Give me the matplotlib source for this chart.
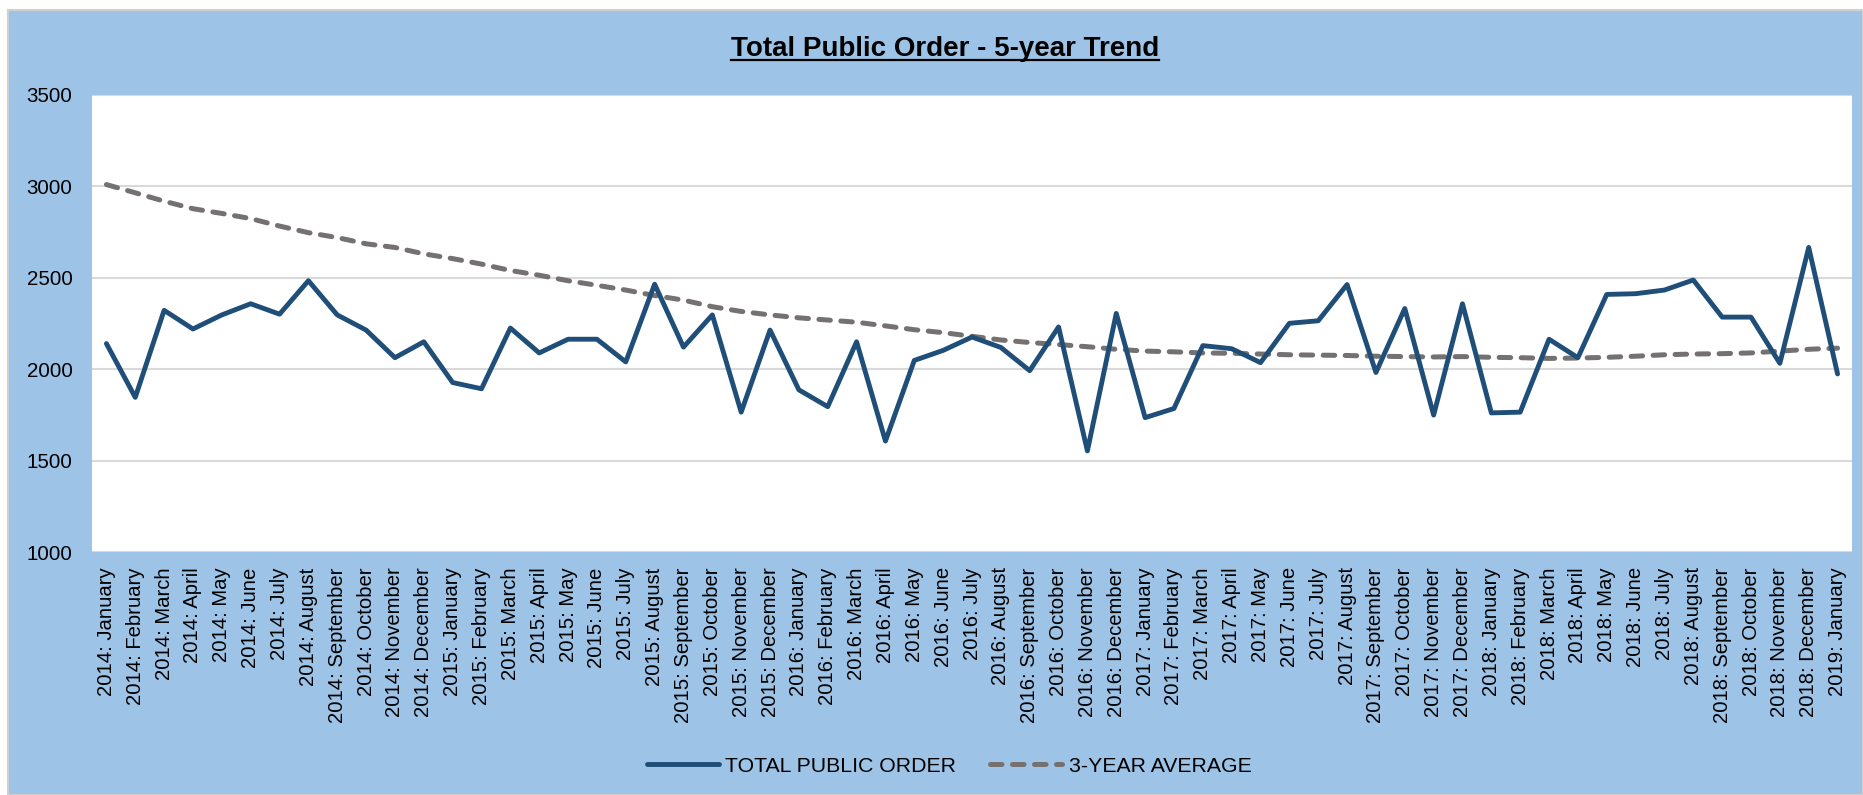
import matplotlib
matplotlib.use("Agg")
import matplotlib.pyplot as plt
from matplotlib.patches import Rectangle
from matplotlib.lines import Line2D

plt.rcParams['font.family'] = ['Liberation Sans', 'DejaVu Sans']

# ---- data ----
years = [2014] * 12 + [2015] * 12 + [2016] * 12 + [2017] * 12 + [2018] * 12 + [2019]
month_names = ["January", "February", "March", "April", "May", "June", "July",
               "August", "September", "October", "November", "December"]
labels = ["%d: %s" % (y, month_names[i % 12]) for i, y in enumerate(years)]

total_public_order = [
    2140, 1846, 2322, 2220, 2297, 2358, 2301, 2484, 2297, 2214, 2063, 2150,
    1927, 1893, 2225, 2089, 2164, 2164, 2040, 2465, 2121, 2297, 1765, 2214,
    1887, 1795, 2150, 1607, 2048, 2103, 2176, 2119, 1992, 2231, 1553, 2305,
    1735, 1785, 2129, 2112, 2036, 2251, 2265, 2463, 1982, 2332, 1749, 2358,
    1761, 1765, 2164, 2063, 2409, 2413, 2433, 2488, 2285, 2285, 2032, 2666,
    1974,
]
three_year_avg = [
    3010, 2965, 2919, 2878, 2852, 2824, 2783, 2747, 2720, 2686, 2666, 2631,
    2605, 2575, 2540, 2514, 2484, 2459, 2433, 2403, 2378, 2342, 2316, 2297,
    2281, 2269, 2257, 2237, 2216, 2200, 2180, 2160, 2146, 2135, 2123, 2109,
    2099, 2095, 2089, 2087, 2083, 2079, 2077, 2075, 2071, 2069, 2067, 2069,
    2065, 2063, 2059, 2061, 2065, 2071, 2079, 2083, 2085, 2089, 2099, 2109,
    2115,
]

W, H = 1863, 795
fig = plt.figure(figsize=(W / 100, H / 100), dpi=100, facecolor="white")

# blue chart background
bg = Rectangle((8 / W, 0), (W - 8) / W, (H - 10) / H, transform=fig.transFigure,
               facecolor="#9DC3E6", edgecolor="#D0D0D0", lw=1.5, zorder=-10)
fig.patches.append(bg)

ax = fig.add_axes([92 / W, (H - 552) / H, 1760 / W, 457 / H])
ax.set_facecolor("white")

x = list(range(len(labels)))
ax.plot(x, total_public_order, color="#1F4E79", lw=3.5,
        solid_capstyle="round", solid_joinstyle="round",
        label="TOTAL PUBLIC ORDER", zorder=3)
avg_line, = ax.plot(x, three_year_avg, color="#767171", lw=3.6,
                    dash_capstyle="round", label="3-YEAR AVERAGE", zorder=2)
avg_line.set_dashes((2.3, 2.1))

ax.set_xlim(-0.5, len(labels) - 0.5)
ax.set_ylim(1000, 3500)
ax.set_yticks([1000, 1500, 2000, 2500, 3000, 3500])
ax.set_xticks(x)
ax.set_xticklabels(labels, rotation=90, fontsize=14.6)
ax.tick_params(axis="x", length=0, pad=11)
ax.tick_params(axis="y", length=0, pad=14, labelsize=14.8)
ax.grid(axis="y", color="#D9D9D9", lw=1.5, zorder=0)
for s in ax.spines.values():
    s.set_visible(False)

# title with underline
title = fig.text(945 / W, (H - 55.5) / H, "Total Public Order - 5-year Trend",
                 ha="center", va="baseline", fontsize=20, fontweight="bold")
fig.canvas.draw()
bb = title.get_window_extent()
uy = (H - 59.5) / H
fig.lines.append(Line2D([bb.x0 / W, bb.x1 / W], [uy, uy], transform=fig.transFigure,
                        color="black", lw=1.6))

fig.legend(loc="center", bbox_to_anchor=(949 / W, 29 / H), ncol=2, frameon=False,
           fontsize=15.3, handlelength=3.4, handletextpad=0.3, columnspacing=1.6)

fig.savefig("out.png", dpi=100, facecolor="white")
